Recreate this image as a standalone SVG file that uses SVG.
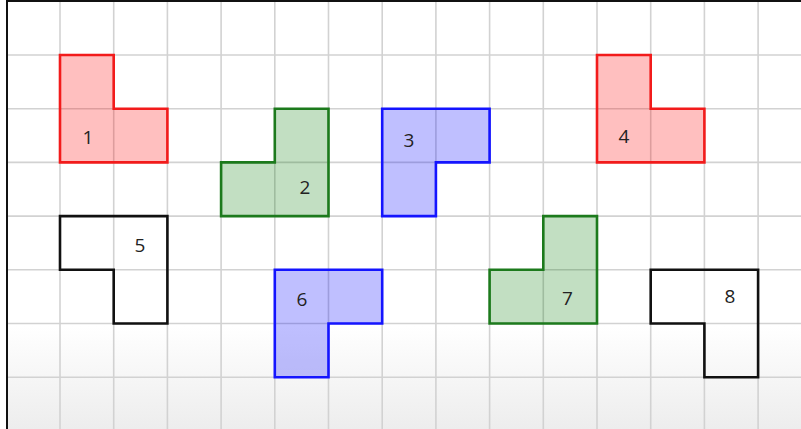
<svg xmlns="http://www.w3.org/2000/svg" width="801" height="429" viewBox="0 0 801 429">
<defs>
<linearGradient id="bg" x1="0" y1="0" x2="0" y2="1">
<stop offset="0" stop-color="#ffffff"/>
<stop offset="0.76" stop-color="#ffffff"/>
<stop offset="1" stop-color="#ededed"/>
</linearGradient>
<style>
.grid line{stroke:#d2d2d2;stroke-width:1.6}
.shape{stroke-width:2.6;stroke-linejoin:miter}
.red{fill:rgba(255,0,0,0.25);stroke:#f21b1b}
.green{fill:rgba(0,120,0,0.24);stroke:#1c7a1c}
.blue{fill:rgba(0,0,255,0.25);stroke:#1414ff}
.none{fill:none;stroke:#111111}
.lbl{font-family:"Open Sans","DejaVu Sans",sans-serif;font-size:19px;fill:#222222;text-anchor:middle}
</style>
</defs>
<rect x="0" y="0" width="801" height="429" fill="#ffffff"/>
<rect x="7" y="1" width="794" height="428" fill="url(#bg)"/>
<g class="grid">
<line x1="60" y1="1" x2="60" y2="429"/>
<line x1="113.7" y1="1" x2="113.7" y2="429"/>
<line x1="167.4" y1="1" x2="167.4" y2="429"/>
<line x1="221.1" y1="1" x2="221.1" y2="429"/>
<line x1="274.8" y1="1" x2="274.8" y2="429"/>
<line x1="328.5" y1="1" x2="328.5" y2="429"/>
<line x1="382.2" y1="1" x2="382.2" y2="429"/>
<line x1="435.9" y1="1" x2="435.9" y2="429"/>
<line x1="489.6" y1="1" x2="489.6" y2="429"/>
<line x1="543.3" y1="1" x2="543.3" y2="429"/>
<line x1="597" y1="1" x2="597" y2="429"/>
<line x1="650.7" y1="1" x2="650.7" y2="429"/>
<line x1="704.4" y1="1" x2="704.4" y2="429"/>
<line x1="758.1" y1="1" x2="758.1" y2="429"/>
<line x1="7" y1="55" x2="801" y2="55"/>
<line x1="7" y1="108.7" x2="801" y2="108.7"/>
<line x1="7" y1="162.4" x2="801" y2="162.4"/>
<line x1="7" y1="216.1" x2="801" y2="216.1"/>
<line x1="7" y1="269.8" x2="801" y2="269.8"/>
<line x1="7" y1="323.5" x2="801" y2="323.5"/>
<line x1="7" y1="377.2" x2="801" y2="377.2"/>
</g>
<line x1="7" y1="0" x2="7" y2="429" stroke="#111" stroke-width="2"/>
<line x1="6" y1="1" x2="801" y2="1" stroke="#111" stroke-width="2"/>
<g id="shape1">
<path class="shape red" d="M60,55 H113.7 V108.7 H167.4 V162.4 H60 Z"/>
<text class="lbl" x="88" y="143.5">1</text>
</g>
<g id="shape2">
<path class="shape green" d="M274.8,108.7 H328.5 V216.1 H221.1 V162.4 H274.8 Z"/>
<text class="lbl" x="305" y="193.5">2</text>
</g>
<g id="shape3">
<path class="shape blue" d="M382.2,108.7 H489.6 V162.4 H435.9 V216.1 H382.2 Z"/>
<text class="lbl" x="409" y="146.5">3</text>
</g>
<g id="shape4">
<path class="shape red" d="M597,55 H650.7 V108.7 H704.4 V162.4 H597 Z"/>
<text class="lbl" x="624" y="143">4</text>
</g>
<g id="shape5">
<path class="shape none" d="M60,216.1 H167.4 V323.5 H113.7 V269.8 H60 Z"/>
<text class="lbl" x="140" y="252">5</text>
</g>
<g id="shape6">
<path class="shape blue" d="M274.8,269.8 H382.2 V323.5 H328.5 V377.2 H274.8 Z"/>
<text class="lbl" x="302" y="306">6</text>
</g>
<g id="shape7">
<path class="shape green" d="M543.3,216.1 H597 V323.5 H489.6 V269.8 H543.3 Z"/>
<text class="lbl" x="567.5" y="304.5">7</text>
</g>
<g id="shape8">
<path class="shape none" d="M650.7,269.8 H758.1 V377.2 H704.4 V323.5 H650.7 Z"/>
<text class="lbl" x="730" y="302.5">8</text>
</g>
<g id="connectors"></g>
</svg>
